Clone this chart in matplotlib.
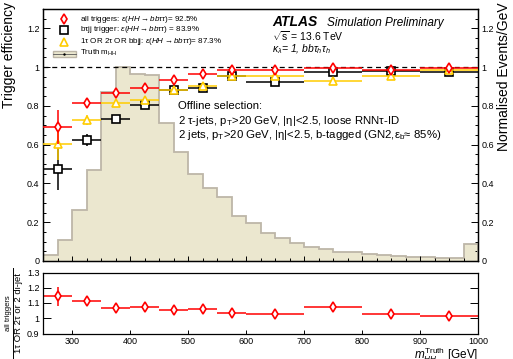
import matplotlib
matplotlib.use("Agg")
import matplotlib.pyplot as plt
from matplotlib.lines import Line2D
from matplotlib.patches import Rectangle
from matplotlib.ticker import MultipleLocator, FormatStrFormatter
import numpy as np

plt.rcParams['font.family'] = ['Liberation Sans', 'DejaVu Sans']
plt.rcParams['mathtext.fontset'] = 'custom'
plt.rcParams['mathtext.rm'] = 'Liberation Sans'
plt.rcParams['mathtext.it'] = 'Liberation Sans:italic'
plt.rcParams['mathtext.bf'] = 'Liberation Sans:bold'

# trigger efficiency binning (GeV)
eff_edges = [250, 300, 350, 400, 450, 500, 550, 600, 700, 800, 900, 1000]

eff_all = [0.691, 0.816, 0.868, 0.895, 0.936, 0.963, 0.987, 0.985, 0.998, 0.985, 0.996]
eff_all_err = [0.09, 0.022, 0.010, 0.008, 0.006, 0.005, 0.004, 0.004, 0.003, 0.004, 0.003]

eff_btjj = [0.477, 0.624, 0.735, 0.806, 0.882, 0.890, 0.953, 0.921, 0.974, 0.980, 0.977]
eff_btjj_err = [0.11, 0.032, 0.015, 0.010, 0.008, 0.007, 0.005, 0.005, 0.004, 0.004, 0.004]

eff_comb = [0.604, 0.729, 0.816, 0.833, 0.881, 0.905, 0.953, 0.952, 0.931, 0.955, 0.984]
eff_comb_err = [0.085, 0.025, 0.012, 0.010, 0.008, 0.006, 0.005, 0.005, 0.005, 0.005, 0.004]

ratio = [1.143, 1.115, 1.068, 1.075, 1.056, 1.062, 1.036, 1.030, 1.073, 1.030, 1.013]
ratio_err = [0.065, 0.015, 0.008, 0.007, 0.007, 0.006, 0.005, 0.005, 0.005, 0.005, 0.004]

# truth m_HH, normalised events / GeV, 25 GeV bins
hist_edges = np.arange(250, 1001, 25)
hist_vals = [0.03, 0.108, 0.265, 0.472, 0.872, 1.0, 0.965, 0.96, 0.71, 0.563,
             0.45, 0.376, 0.33, 0.232, 0.197, 0.145, 0.12, 0.093, 0.074, 0.06,
             0.047, 0.044, 0.035, 0.03, 0.027, 0.023, 0.019, 0.016, 0.014, 0.087]

RED = '#ff0000'
GOLD = '#ffcc00'
FILL = '#ebe7cf'
EDGE = '#bdb6a8'

edges = np.array(eff_edges, dtype=float)
centers = 0.5 * (edges[:-1] + edges[1:])
halfw = 0.5 * (edges[1:] - edges[:-1])

W, H = 513, 359
fig = plt.figure(figsize=(W / 100, H / 100), dpi=100)

ax = fig.add_axes([43 / W, 1 - 261 / H, 435 / W, 252 / H])
ax2 = ax.twinx()
ax.set_zorder(ax2.get_zorder() + 1)
ax.patch.set_visible(False)

# truth distribution on the right-hand axis
ax2.stairs(hist_vals, hist_edges, fill=True, color=FILL, zorder=1)
ax2.stairs(hist_vals, hist_edges, color=EDGE, lw=1.3, zorder=2)
ax2.set_ylim(0, 1.3)
ax2.yaxis.set_major_locator(MultipleLocator(0.2))
ax2.yaxis.set_minor_locator(MultipleLocator(0.05))
ax2.yaxis.set_major_formatter(FormatStrFormatter('%g'))
ax2.tick_params(axis='y', which='both', direction='in', labelsize=6.5, pad=2.5, width=0.7)
ax2.tick_params(axis='y', which='major', length=5)
ax2.tick_params(axis='y', which='minor', length=2.5)

ax.axhline(1.0, color='k', ls=(0, (4, 3)), lw=0.9, zorder=3)

ax.errorbar(centers, eff_btjj, xerr=halfw, yerr=eff_btjj_err, fmt='s', color='k',
            mfc='white', mec='k', ms=5.5, mew=1.2, elinewidth=1.1, capsize=0, zorder=4)
ax.errorbar(centers, eff_comb, xerr=halfw, yerr=eff_comb_err, fmt='^', color=GOLD,
            mfc='white', mec=GOLD, ms=6, mew=1.2, elinewidth=1.1, capsize=0, zorder=5)
ax.errorbar(centers, eff_all, xerr=halfw, yerr=eff_all_err, fmt='d', color=RED,
            mfc='white', mec=RED, ms=4.6, mew=1.2, elinewidth=1.1, capsize=0, zorder=6)

ax.set_xlim(250, 1000)
ax.set_ylim(0, 1.3)
ax.yaxis.set_major_locator(MultipleLocator(0.2))
ax.yaxis.set_minor_locator(MultipleLocator(0.05))
ax.yaxis.set_major_formatter(FormatStrFormatter('%g'))
ax.xaxis.set_major_locator(MultipleLocator(100))
ax.xaxis.set_minor_locator(MultipleLocator(25))
ax.tick_params(which='both', direction='in', labelsize=6.5, pad=2.5, width=0.7,
               right=False, top=False, labelbottom=False)
ax.tick_params(axis='y', which='major', length=5)
ax.tick_params(axis='y', which='minor', length=2.5)
ax.tick_params(axis='x', which='major', length=3.5)
ax.tick_params(axis='x', which='minor', length=2)
for a in (ax, ax2):
    for s in a.spines.values():
        s.set_linewidth(0.9)

# legend, drawn by hand
leg_rows = [0.960, 0.917, 0.870, 0.824]
mx, tx = 0.048, 0.086
ax.plot([mx], [leg_rows[0]], 'd', transform=ax.transAxes, ms=4.6, mfc='white',
        mec=RED, mew=1.2, clip_on=False, zorder=7)
ax.plot([mx], [leg_rows[1]], 's', transform=ax.transAxes, ms=5.5, mfc='white',
        mec='k', mew=1.2, clip_on=False, zorder=7)
ax.plot([mx], [leg_rows[2]], '^', transform=ax.transAxes, ms=6, mfc='white',
        mec=GOLD, mew=1.2, clip_on=False, zorder=7)
ax.add_patch(Rectangle((0.023, 0.808), 0.053, 0.027, transform=ax.transAxes,
                       facecolor=FILL, edgecolor=EDGE, lw=1.0, zorder=7))
ax.plot([0.023, 0.076], [0.8215, 0.8215], transform=ax.transAxes, color='#555555',
        lw=0.6, zorder=8)
ax.plot([mx], [0.8215], '.', transform=ax.transAxes, color='k', ms=1.5, zorder=8)

leg_labels = [
    r"all triggers: $\varepsilon(HH{\rightarrow}bb\tau\tau)$= 92.5%",
    r"b$\mathregular{\tau}$jj trigger: $\varepsilon(HH{\rightarrow}bb\tau\tau)$ = 83.9%",
    r"1$\mathregular{\tau}$ OR 2$\mathregular{\tau}$ OR bbjj: $\varepsilon(HH{\rightarrow}bb\tau\tau)$= 87.3%",
    r"Truth m$_\mathregular{HH}$",
]
for y, lab in zip(leg_rows, leg_labels):
    ax.text(tx, y, lab, transform=ax.transAxes, fontsize=5.8, va='center', ha='left')

# ATLAS label and selection
fig.text(272 / W, 1 - 26 / H, "ATLAS", fontsize=10, weight='bold', style='italic')
fig.text(327 / W, 1 - 26 / H, "Simulation Preliminary", fontsize=8.5, style='italic')
fig.text(272 / W, 1 - 41 / H, r"$\sqrt{\mathregular{s}}$ = 13.6 TeV", fontsize=7.5)
fig.text(272 / W, 1 - 52 / H, r"$\kappa_{\lambda}$= 1, $bb\tau_{h}\tau_{h}$",
         fontsize=7.5, style='italic')

sel_lines = [
    "Offline selection:",
    r"2 τ-jets, p$_\mathregular{T}$>20 GeV, |η|<2.5, loose RNNτ-ID",
    r"2 jets, p$_\mathregular{T}$>20 GeV, |η|<2.5, b-tagged (GN2,ε$_\mathregular{b}$≈ 85%)",
]
for yb, line in zip([109, 123.5, 138], sel_lines):
    fig.text(178 / W, 1 - yb / H, line, fontsize=8.2)

fig.text(2 / W, 1 - 2 / H, "Trigger efficiency", rotation=90, fontsize=10,
         ha='left', va='top')
fig.text(511 / W, 1 - 2 / H, "Normalised Events/GeV", rotation=90, fontsize=10,
         ha='right', va='top')

# ratio panel
rax = fig.add_axes([43 / W, 1 - 333.5 / H, 435 / W, 61 / H])
rax.errorbar(centers, ratio, xerr=halfw, yerr=ratio_err, fmt='d', color=RED,
             mfc='white', mec=RED, ms=4.6, mew=1.2, elinewidth=1.1, capsize=0)
rax.set_xlim(250, 1000)
rax.set_ylim(0.9, 1.3)
rax.xaxis.set_major_locator(MultipleLocator(100))
rax.yaxis.set_major_locator(MultipleLocator(0.1))
rax.yaxis.set_major_formatter(FormatStrFormatter('%g'))
rax.tick_params(which='both', direction='in', labelsize=6.5, pad=2.5, width=0.7,
                right=True, top=False)
rax.tick_params(axis='y', which='major', length=6)
rax.tick_params(axis='x', which='major', length=3)
for s in rax.spines.values():
    s.set_linewidth(0.9)

fig.text(8.7 / W, 1 - 313 / H, "all triggers", rotation=90, fontsize=5.5,
         ha='center', va='center')
fig.text(18.3 / W, 1 - 313 / H, "1τ OR 2τ or 2 di-jet", rotation=90, fontsize=6.8,
         ha='center', va='center')
fig.add_artist(Line2D([13.3 / W, 13.3 / W], [1 - 268 / H, 0], color='k', lw=0.7))

fig.text(478 / W, 1 - 358 / H, r"$m_{HH}^{\mathregular{Truth}}$ [GeV]",
         fontsize=8.5, ha='right')

fig.savefig("out.png", dpi=100)
